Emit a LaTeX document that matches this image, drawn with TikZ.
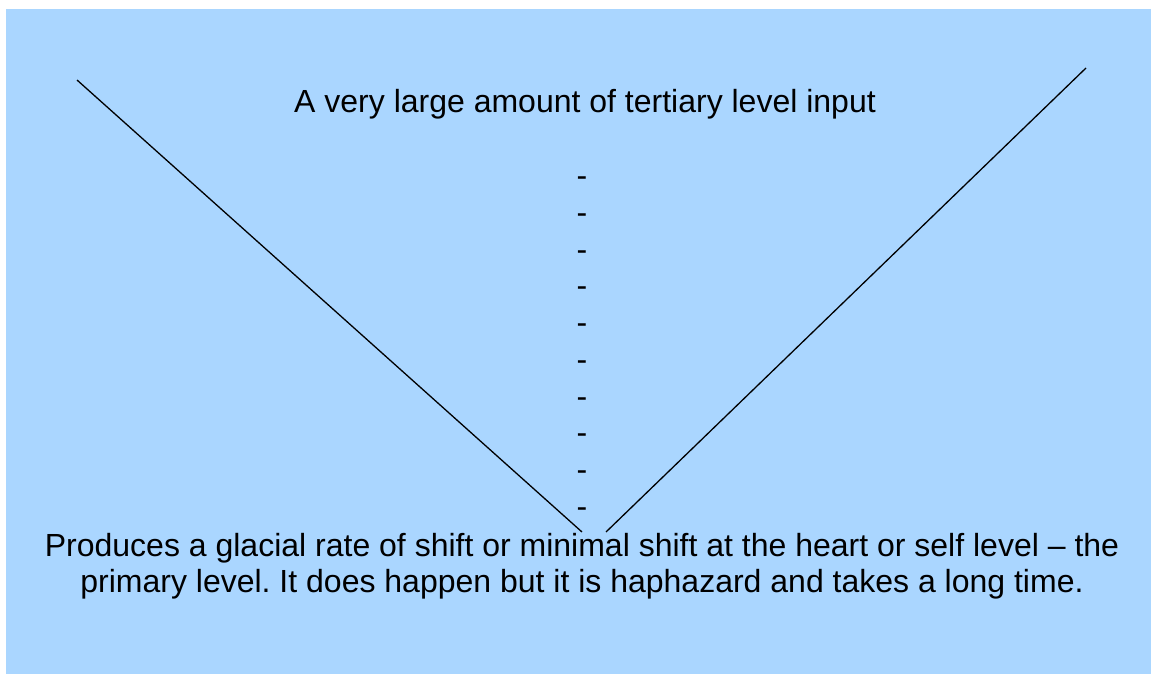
\documentclass[tikz,border=0pt]{standalone}
\usepackage{fontspec}
\setmainfont{Liberation Sans}
\usetikzlibrary{positioning}
\definecolor{skyfill}{RGB}{170,214,255}
\frenchspacing

\begin{document}
\begin{tikzpicture}[
    x=1pt, y=-1pt,
    every node/.style={font=\fontsize{32}{36}\selectfont, inner sep=0pt},
    vline/.style={black, line width=1.3pt}
]

% Page and background
\useasboundingbox (0,0) rectangle (1151,674);
\fill[skyfill] (6,9) rectangle (1151,674);

% Top text
\node (top) at (585,104) {A very large amount of tertiary level input};

% Column of dashes
\foreach \i in {0,...,9} {
    \node (dash\i) at (582,{182+36.7*\i}) {-};
}

% The V
\coordinate (leftend) at (77,80);
\coordinate (rightend) at (1086,68);
\coordinate (leftbase) at (582,532);
\coordinate (rightbase) at (606,532);
\draw[vline] (leftend) -- (leftbase);
\draw[vline] (rightend) -- (rightbase);

% Bottom text
\node[align=center] (bottom) at (582,566) {Produces a glacial rate of shift or minimal shift at the heart or self level -- the\\primary level. It does happen but it is haphazard and takes a long time.};

\end{tikzpicture}
\end{document}
